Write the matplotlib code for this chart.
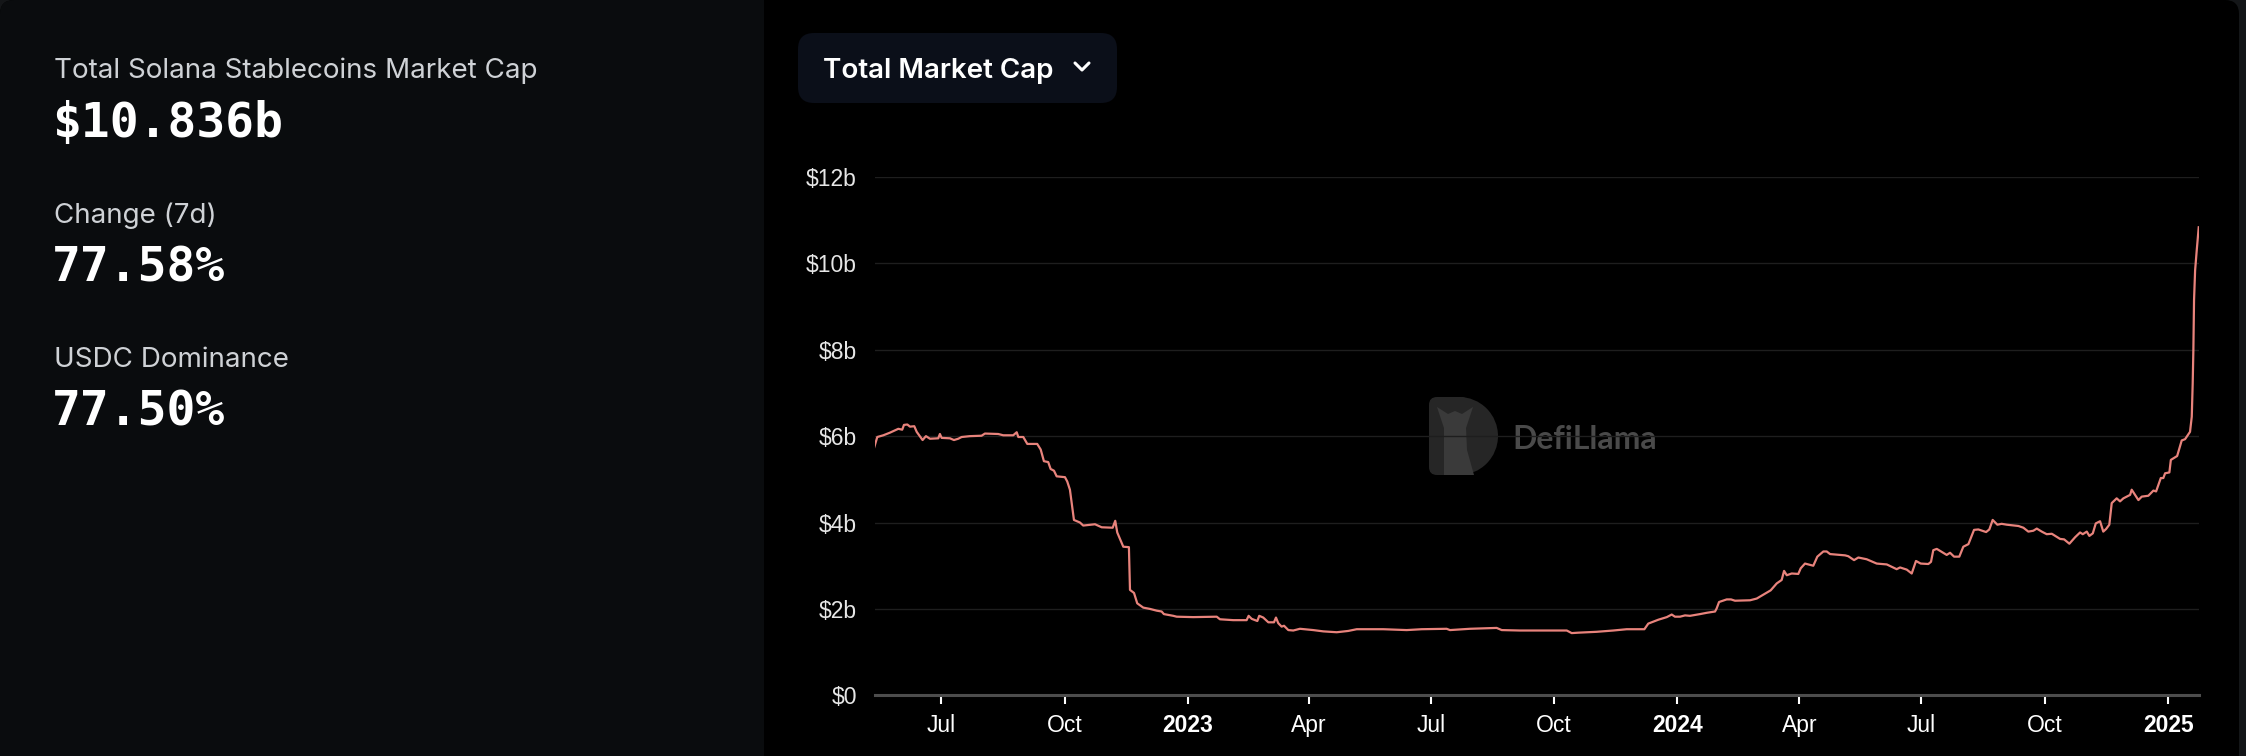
import matplotlib
matplotlib.use("Agg")
import matplotlib.pyplot as plt
from matplotlib.patches import FancyBboxPatch, Rectangle, Wedge, Polygon
import pandas as pd

W, H = 2246, 756
DPI = 100

# stats panel on the left
stat_labels = ["Total Solana Stablecoins Market Cap", "Change (7d)", "USDC Dominance"]
stat_values = ["$10.836b", "77.58%", "77.50%"]
button_label = "Total Market Cap"

# total market cap series: days relative to 2023-01-01, value in $b
day_offsets = [
    -234.2, -231.9, -227.4, -222.5, -216.2, -213.3, -212.0, -209.5, -207.5, -204.3,
    -202.5, -198.1, -195.6, -192.6, -186.4, -185.2, -183.9, -177.7, -174.7, -171.5,
    -169.0, -162.8, -154.1, -151.6, -141.7, -137.9, -130.5, -127.9, -126.7, -123.0,
    -120.0, -112.6, -110.0, -107.6, -104.4, -102.6, -100.1, -98.1, -91.9, -90.2,
    -88.2, -85.2, -80.7, -78.3, -69.5, -64.5, -56.3, -54.4, -52.9, -48.4,
    -44.2, -43.4, -40.4, -38.0, -33.5, -28.5, -23.5, -19.8, -18.1, -11.1,
    -8.6, 3.8, 21.3, 23.7, 33.6, 43.6, 45.1, 47.4, 51.6, 53.0,
    56.0, 59.8, 64.0, 65.5, 67.2, 69.7, 71.5, 74.7, 78.4, 83.4,
    93.3, 100.8, 110.8, 119.4, 125.7, 145.5, 163.0, 174.2, 192.8, 195.3,
    210.2, 230.1, 233.9, 247.5, 282.4, 286.1, 291.0, 304.7, 317.1, 327.1,
    340.3, 343.2, 350.7, 357.0, 360.7, 363.1, 366.9, 370.6, 374.3, 381.8,
    386.8, 393.0, 394.2, 396.0, 401.7, 404.9, 407.9, 419.1, 424.1, 429.0,
    434.5, 439.0, 442.7, 444.5, 446.5, 450.2, 455.1, 456.9, 460.1, 466.3,
    469.3, 473.8, 476.3, 478.8, 490.0, 492.4, 496.7, 499.9, 506.1, 513.6,
    521.1, 528.5, 531.0, 536.0, 539.7, 542.9, 546.4, 552.1, 554.1, 555.8,
    558.4, 565.8, 568.3, 571.3, 575.2, 578.2, 582.0, 586.2, 589.4, 595.2,
    597.6, 600.1, 603.6, 606.8, 610.6, 619.3, 623.0, 626.7, 630.4, 633.0,
    636.7, 640.4, 644.2, 650.4, 653.4, 657.3, 661.6, 665.3, 667.3, 670.3,
    672.2, 674.8, 677.0, 680.2, 682.6, 684.7, 687.1, 688.9, 692.6, 695.1,
    697.6, 700.1, 702.6, 703.8, 706.3, 708.8, 711.3, 716.2, 720.0, 722.0,
    725.5, 727.4, 728.7, 731.9, 733.0, 737.7, 741.1, 743.6, 747.3, 748.6,
    749.3, 749.8, 750.3, 751.1, 752.3, 753.8,
]
market_cap_b = [
    5.74, 5.98, 6.02, 6.08, 6.17, 6.15, 6.26, 6.27, 6.22, 6.23,
    6.10, 5.91, 6.00, 5.94, 5.95, 6.05, 5.96, 5.95, 5.91, 5.94,
    5.98, 6.00, 6.01, 6.06, 6.05, 6.02, 6.02, 6.09, 5.98, 5.98,
    5.82, 5.82, 5.69, 5.42, 5.40, 5.24, 5.20, 5.07, 5.05, 4.95,
    4.76, 4.06, 4.00, 3.93, 3.96, 3.89, 3.88, 4.04, 3.77, 3.44,
    3.43, 2.44, 2.37, 2.13, 2.03, 2.00, 1.96, 1.94, 1.88, 1.84,
    1.82, 1.81, 1.82, 1.76, 1.74, 1.74, 1.84, 1.77, 1.72, 1.84,
    1.80, 1.69, 1.69, 1.80, 1.67, 1.59, 1.61, 1.51, 1.50, 1.54,
    1.51, 1.48, 1.46, 1.49, 1.53, 1.53, 1.51, 1.53, 1.54, 1.51,
    1.54, 1.56, 1.51, 1.50, 1.50, 1.44, 1.45, 1.47, 1.50, 1.53,
    1.53, 1.66, 1.75, 1.81, 1.87, 1.82, 1.82, 1.85, 1.84, 1.88,
    1.91, 1.94, 2.01, 2.16, 2.22, 2.22, 2.19, 2.20, 2.24, 2.33,
    2.43, 2.59, 2.67, 2.88, 2.78, 2.82, 2.81, 2.94, 3.05, 3.00,
    3.21, 3.33, 3.33, 3.27, 3.24, 3.22, 3.13, 3.19, 3.15, 3.05,
    3.03, 2.92, 2.96, 2.91, 2.82, 3.11, 3.05, 3.04, 3.09, 3.36,
    3.39, 3.25, 3.30, 3.21, 3.21, 3.44, 3.50, 3.83, 3.84, 3.78,
    3.84, 4.06, 3.95, 3.97, 3.95, 3.92, 3.88, 3.79, 3.81, 3.86,
    3.79, 3.73, 3.74, 3.62, 3.61, 3.51, 3.66, 3.77, 3.73, 3.79,
    3.69, 3.75, 3.98, 4.03, 3.79, 3.85, 3.95, 4.45, 4.56, 4.49,
    4.56, 4.60, 4.64, 4.76, 4.64, 4.52, 4.60, 4.62, 4.74, 4.72,
    5.03, 5.03, 5.14, 5.16, 5.45, 5.54, 5.90, 5.93, 6.10, 6.45,
    7.22, 7.99, 9.15, 9.84, 10.30, 10.836,
]

y_ticks = [0, 2, 4, 6, 8, 10, 12]
y_tick_labels = ["$0", "$2b", "$4b", "$6b", "$8b", "$10b", "$12b"]
x_tick_dates = ["2022-07-01", "2022-10-01", "2023-01-01", "2023-04-01", "2023-07-01",
                "2023-10-01", "2024-01-01", "2024-04-01", "2024-07-01", "2024-10-01",
                "2025-01-01"]
x_tick_labels = ["Jul", "Oct", "2023", "Apr", "Jul", "Oct", "2024", "Apr", "Jul", "Oct", "2025"]

base = pd.Timestamp("2023-01-01")
dates = base + pd.to_timedelta(day_offsets, unit="D")

fig = plt.figure(figsize=(W / DPI, H / DPI), dpi=DPI, facecolor="#141618")

# background layer in pixel coordinates
bg = fig.add_axes([0, 0, 1, 1])
bg.set_xlim(0, W)
bg.set_ylim(H, 0)
bg.axis("off")
bg.add_patch(FancyBboxPatch((0, 0), 2239, H + 40, boxstyle="round,pad=0,rounding_size=14",
                            fc="black", ec="none"))
bg.add_patch(FancyBboxPatch((0, 0), 764, H + 40, boxstyle="round,pad=0,rounding_size=14",
                            fc="#0a0c0e", ec="none"))
bg.add_patch(Rectangle((700, 0), 64, H, fc="#0a0c0e", ec="none"))

# stats text
label_y = [78, 223, 367]
value_y = [137, 282, 425]
for lab, val, ly, vy in zip(stat_labels, stat_values, label_y, value_y):
    bg.text(54, ly, lab, fontsize=20, family="Inter", color="#cfd2d6", va="baseline")
    bg.text(52, vy, val, fontsize=34.5, family="DejaVu Sans Mono", fontweight="bold",
            color="white", va="baseline")

# dropdown button
bg.add_patch(FancyBboxPatch((798, 33), 319, 70, boxstyle="round,pad=0,rounding_size=16",
                            fc="#0b0f19", ec="none"))
bg.text(823, 78, button_label, fontsize=20, family="Inter", fontweight="semibold",
        color="white", va="baseline")
bg.plot([1075, 1082, 1089], [63, 70, 63], color="white", lw=2.2, solid_capstyle="round")

# watermark
bg.add_patch(FancyBboxPatch((1429, 397), 40, 78, boxstyle="round,pad=0,rounding_size=8",
                            fc="#262626", ec="none"))
bg.add_patch(Wedge((1459, 436), 39, -90, 90, fc="#262626", ec="none"))
bg.add_patch(Polygon([(1444, 475), (1444, 428), (1437, 407), (1448, 414), (1455, 411),
                      (1462, 414), (1473, 407), (1466, 428), (1467, 450), (1474, 475)],
                     closed=True, fc="#3a3a3a", ec="none"))
bg.text(1512, 449, "DefiLlama", fontsize=23, family="Lato", fontweight="bold",
        color="#4a4a4a", va="baseline")

# chart
ax = fig.add_axes([875 / W, (H - 695.3) / H, (2199 - 875) / W, (695.3 - 177) / H])
ax.set_facecolor("none")
ax.plot(dates, market_cap_b, color="#e8837c", lw=1.6, zorder=3)
ax.set_xlim(base + pd.Timedelta(days=-233.6), base + pd.Timedelta(days=754))
ax.set_ylim(0, 12)

ax.set_yticks(y_ticks)
ax.set_yticklabels(y_tick_labels, family="Liberation Sans")
ax.set_xticks(pd.to_datetime(x_tick_dates))
ax.set_xticklabels(x_tick_labels, family="Liberation Sans")
for t in ax.get_xticklabels():
    if t.get_text().isdigit():
        t.set_fontweight("bold")

ax.yaxis.grid(True, color="#1e1e1e", lw=1.0, zorder=0)
ax.set_axisbelow(True)
for side in ["top", "right", "left"]:
    ax.spines[side].set_visible(False)
ax.spines["bottom"].set_color("#4d4d4d")
ax.spines["bottom"].set_linewidth(2.2)
ax.tick_params(axis="y", length=0, pad=13, labelsize=16.5, labelcolor="#e6e6e6")
ax.tick_params(axis="x", length=6.5, width=1.5, color="white", pad=7,
               labelsize=16.5, labelcolor="white")

fig.savefig("out.png", dpi=DPI, facecolor=fig.get_facecolor())
